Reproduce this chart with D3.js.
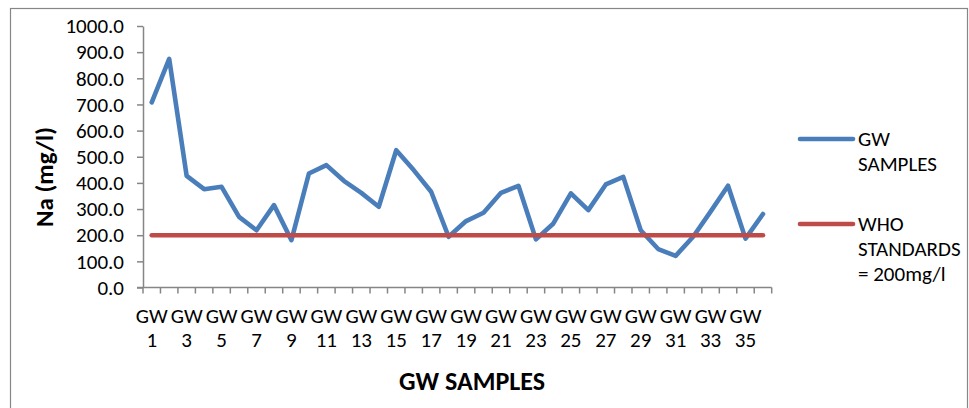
<!DOCTYPE html>
<html>
<head>
<meta charset="utf-8">
<script src="https://cdn.jsdelivr.net/npm/d3@7/dist/d3.min.js"></script>
<style>
  html, body { margin: 0; padding: 0; background: #fff; }
  svg { display: block; }
  text { font-family: Carlito, Calibri, Lato, "Open Sans", sans-serif; fill: #000; }
</style>
</head>
<body>
<svg id="chart" width="969" height="408"></svg>
<script>
// Sodium concentration in groundwater samples (mg/l)
const samples = d3.range(1, 37).map(i => "GW " + i);
const naValues = [
  708, 874, 427, 376, 385, 270, 219, 315, 181, 436,
  468, 408, 362, 309, 525, 449, 366, 194, 254, 286,
  362, 389, 184, 245, 360, 296, 394, 423, 219, 147,
  121, 194, 290, 389, 187, 281
];
const whoLimit = samples.map(() => 200);
const yTicks = [0, 100, 200, 300, 400, 500, 600, 700, 800, 900, 1000];
const seriesNames = ["GW SAMPLES", "WHO STANDARDS = 200mg/l"];
const legendLines = [["GW", "SAMPLES"], ["WHO", "STANDARDS", "= 200mg/l"]];
const seriesColors = ["#4a7ebb", "#be4b48"];

const svg = d3.select("#chart");
const axisColor = "#868686";

// outer chart frame
svg.append("rect")
  .attr("x", 10.5).attr("y", 8.5)
  .attr("width", 957).attr("height", 420)
  .attr("fill", "none").attr("stroke", axisColor).attr("stroke-width", 1.2);

const plot = { left: 143, right: 771.7, top: 26, bottom: 287.5 };

const x = d3.scaleBand().domain(samples).range([plot.left, plot.right]).padding(0);
const y = d3.scaleLinear().domain([0, 1000]).range([plot.bottom, plot.top]);
const cx = d => x(d) + x.bandwidth() / 2;

// y axis
const yAxis = d3.axisLeft(y)
  .tickValues(yTicks)
  .tickFormat(d3.format(".1f"))
  .tickSize(6)
  .tickSizeOuter(0)
  .tickPadding(13);
const gy = svg.append("g").attr("transform", `translate(${plot.left},0)`).call(yAxis);
gy.select(".domain").attr("stroke", axisColor).attr("stroke-width", 1.5);
gy.selectAll(".tick line").attr("stroke", axisColor).attr("stroke-width", 1.5);
gy.selectAll(".tick text").attr("font-size", 21).attr("font-family", null).attr("fill", "#000");

// x axis line with ticks at category boundaries
const gx = svg.append("g");
gx.append("line")
  .attr("x1", plot.left - 6).attr("x2", plot.right)
  .attr("y1", y(0)).attr("y2", y(0))
  .attr("stroke", axisColor).attr("stroke-width", 1.5);
gx.selectAll("line.tk")
  .data(d3.range(samples.length + 1))
  .join("line")
  .attr("class", "tk")
  .attr("x1", i => plot.left + i * x.step())
  .attr("x2", i => plot.left + i * x.step())
  .attr("y1", y(0)).attr("y2", y(0) + 6)
  .attr("stroke", axisColor).attr("stroke-width", 1.5);

// category labels, every second sample
const labeled = samples.filter((d, i) => i % 2 === 0);
const lbl = gx.selectAll("text.cat")
  .data(labeled)
  .join("text")
  .attr("class", "cat")
  .attr("text-anchor", "middle")
  .attr("font-size", 21);
lbl.each(function (d) {
  const parts = d.split(" ");
  const t = d3.select(this);
  t.append("tspan").attr("x", cx(d)).attr("y", 323).text(parts[0]);
  t.append("tspan").attr("x", cx(d)).attr("y", 347).text(parts[1]);
});

// axis titles
svg.append("text")
  .attr("x", 472).attr("y", 390)
  .attr("text-anchor", "middle")
  .attr("font-size", 26).attr("font-weight", "bold")
  .text("GW SAMPLES");
svg.append("text")
  .attr("transform", "translate(53,177) rotate(-90)")
  .attr("text-anchor", "middle")
  .attr("font-size", 25).attr("font-weight", "bold")
  .text("Na (mg/l)");

// series lines
const line = d3.line().x((d, i) => cx(samples[i])).y(d => y(d));
[naValues, whoLimit].forEach((vals, k) => {
  svg.append("path")
    .datum(vals)
    .attr("fill", "none")
    .attr("stroke", seriesColors[k])
    .attr("stroke-width", 4.6)
    .attr("stroke-linejoin", "round")
    .attr("stroke-linecap", "round")
    .attr("d", line);
});

// legend
const legendY = [139, 224];
legendLines.forEach((lines, k) => {
  const g = svg.append("g").attr("class", "legend").attr("aria-label", seriesNames[k]);
  g.append("line")
    .attr("x1", 800).attr("x2", 853)
    .attr("y1", legendY[k]).attr("y2", legendY[k])
    .attr("stroke", seriesColors[k]).attr("stroke-width", 4.6)
    .attr("stroke-linecap", "round");
  const t = g.append("text").attr("font-size", 21);
  lines.forEach((s, j) => {
    t.append("tspan").attr("x", 858).attr("y", legendY[k] + 7 + j * 25).text(s);
  });
});
</script>
</body>
</html>
